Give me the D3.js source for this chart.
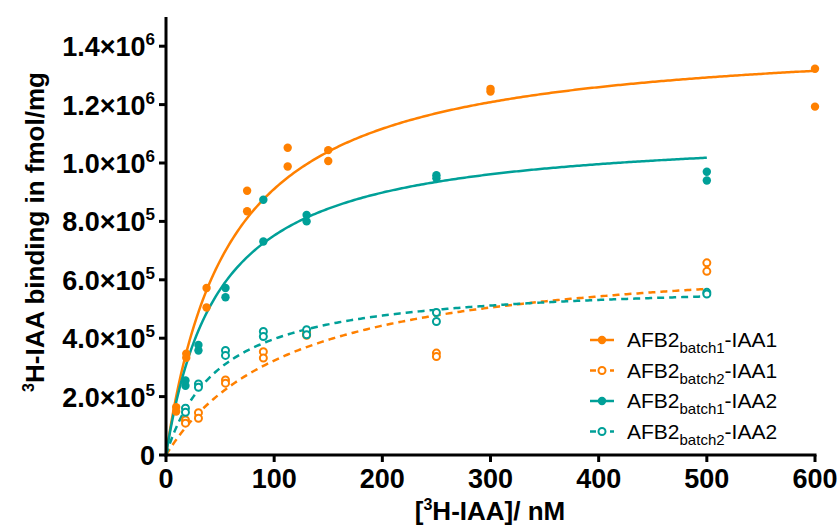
<!DOCTYPE html>
<html>
<head>
<meta charset="utf-8">
<script src="https://d3js.org/d3.v7.min.js"></script>
<style>
  body { margin: 0; background: #fff; font-family: Arial, "Liberation Sans", sans-serif; }
  .tick-label { font-weight: bold; font-size: 27px; fill: #000; }
  .axis-title { font-weight: bold; font-size: 26px; fill: #000; }
  .legend-text { font-size: 21px; fill: #000; }
</style>
</head>
<body>
<div id="chart"></div>
<script>
// concentrations (nM)
const concBatch1IAA1 = [9.4, 18.75, 37.5, 75, 112.5, 150, 300, 600];
const concOther = [18, 30, 55, 90, 130, 250, 500];

// replicate values, fmol/mg
const b1IAA1_rep1 = [164000, 347000, 572000, 905000, 1052000, 1044000, 1254000, 1323000];
const b1IAA1_rep2 = [149000, 333000, 505000, 835000, 988000, 1007000, 1245000, 1193000];
const b2IAA1_rep1 = [120000, 145000, 257000, 354000, 418000, 349000, 658000];
const b2IAA1_rep2 = [109000, 126000, 246000, 332000, 410000, 337000, 629000];
const b1IAA2_rep1 = [255000, 377000, 572000, 874000, 822000, 958000, 970000];
const b1IAA2_rep2 = [237000, 358000, 540000, 731000, 800000, 948000, 940000];
const b2IAA2_rep1 = [160000, 243000, 358000, 423000, 429000, 488000, 557000];
const b2IAA2_rep2 = [146000, 232000, 341000, 406000, 412000, 457000, 551000];

// one-site fit parameters [Bmax, Kd, last x]
const fitB1IAA1 = [1444000, 58.5, 600];
const fitB2IAA1 = [702000, 117, 500];
const fitB1IAA2 = [1117000, 48.6, 500];
const fitB2IAA2 = [598000, 50.5, 500];

const xTicks = [0, 100, 200, 300, 400, 500, 600];
const yTicks = [0, 200000, 400000, 600000, 800000, 1000000, 1200000, 1400000];
const legendNames = ["IAA1", "IAA1", "IAA2", "IAA2"];
const legendBatches = ["batch1", "batch2", "batch1", "batch2"];

const orange = "#ff8000", teal = "#00a098";

const series = [
  {conc: concBatch1IAA1, reps: [b1IAA1_rep1, b1IAA1_rep2], fit: fitB1IAA1, color: orange, open: false},
  {conc: concOther, reps: [b2IAA1_rep1, b2IAA1_rep2], fit: fitB2IAA1, color: orange, open: true},
  {conc: concOther, reps: [b1IAA2_rep1, b1IAA2_rep2], fit: fitB1IAA2, color: teal, open: false},
  {conc: concOther, reps: [b2IAA2_rep1, b2IAA2_rep2], fit: fitB2IAA2, color: teal, open: true}
];

const W = 840, H = 529;
const svg = d3.select("#chart").append("svg").attr("width", W).attr("height", H);

const x = d3.scaleLinear().domain([0, 600]).range([166, 815]);
const y = d3.scaleLinear().domain([0, 1500000]).range([455, 17]);

// fit curves
const line = d3.line().x(d => x(d[0])).y(d => y(d[1]));
series.forEach(s => {
  const [bmax, kd, xmax] = s.fit;
  const pts = d3.range(0, xmax + 0.001, 2).map(c => [c, bmax * c / (kd + c)]);
  svg.append("path")
    .attr("d", line(pts))
    .attr("fill", "none")
    .attr("stroke", s.color)
    .attr("stroke-width", 2.5)
    .attr("stroke-dasharray", s.open ? "7,5" : null);
});

// points
series.forEach(s => {
  s.reps.forEach(rep => {
    svg.append("g").selectAll("circle")
      .data(rep)
      .enter().append("circle")
        .attr("cx", (d, i) => x(s.conc[i]))
        .attr("cy", d => y(d))
        .attr("r", s.open ? 3.5 : 4.2)
        .attr("fill", s.open ? "#fff" : s.color)
        .attr("stroke", s.open ? s.color : "none")
        .attr("stroke-width", 2);
  });
});

// axes
const axisColor = "#000";
svg.append("line").attr("x1", 166).attr("x2", 166).attr("y1", y(1500000)).attr("y2", 456.5)
  .attr("stroke", axisColor).attr("stroke-width", 3);
svg.append("line").attr("x1", 164.5).attr("x2", 816.5).attr("y1", 455).attr("y2", 455)
  .attr("stroke", axisColor).attr("stroke-width", 3);

const xAxis = svg.append("g");
xTicks.forEach(t => {
  xAxis.append("line").attr("x1", x(t)).attr("x2", x(t)).attr("y1", 455).attr("y2", 462)
    .attr("stroke", axisColor).attr("stroke-width", 3);
  xAxis.append("text").attr("class", "tick-label")
    .attr("x", x(t)).attr("y", 488).attr("text-anchor", "middle").text(t);
});

const yAxis = svg.append("g");
yTicks.forEach(t => {
  yAxis.append("line").attr("x1", 159).attr("x2", 166).attr("y1", y(t)).attr("y2", y(t))
    .attr("stroke", axisColor).attr("stroke-width", 3);
  const txt = yAxis.append("text").attr("class", "tick-label")
    .attr("x", 155).attr("y", y(t) + 10).attr("text-anchor", "end");
  if (t === 0) { txt.text("0"); return; }
  const exp = Math.floor(Math.log10(t));
  const mant = (t / Math.pow(10, exp)).toFixed(1);
  txt.append("tspan").text(mant + "\u00d710");
  txt.append("tspan").attr("dy", -11).attr("font-size", 17).text(exp);
});

// axis titles
const xt = svg.append("text").attr("class", "axis-title")
  .attr("x", 490).attr("y", 520).attr("text-anchor", "middle");
xt.append("tspan").text("[");
xt.append("tspan").attr("dy", -10).attr("font-size", 16).text("3");
xt.append("tspan").attr("dy", 10).text("H-IAA]/ nM");

const yt = svg.append("text").attr("class", "axis-title")
  .attr("transform", "translate(44,232) rotate(-90)").attr("text-anchor", "middle");
yt.append("tspan").attr("dy", -10).attr("font-size", 16).text("3");
yt.append("tspan").attr("dy", 10).text("H-IAA binding in fmol/mg");

// legend
const legend = svg.append("g");
series.forEach((s, i) => {
  const ly = 340 + i * 30.5;
  legend.append("line").attr("x1", 590).attr("x2", 614).attr("y1", ly).attr("y2", ly)
    .attr("stroke", s.color).attr("stroke-width", 2.5)
    .attr("stroke-dasharray", s.open ? "6,4" : null);
  legend.append("circle").attr("cx", 602).attr("cy", ly)
    .attr("r", s.open ? 3.5 : 4.2)
    .attr("fill", s.open ? "#fff" : s.color)
    .attr("stroke", s.open ? s.color : "none").attr("stroke-width", 2);
  const t = legend.append("text").attr("class", "legend-text").attr("x", 627).attr("y", ly + 7);
  t.append("tspan").text("AFB2");
  t.append("tspan").attr("dy", 6).attr("font-size", 15).text(legendBatches[i]);
  t.append("tspan").attr("dy", -6).text("-" + legendNames[i]);
});
</script>
</body>
</html>
